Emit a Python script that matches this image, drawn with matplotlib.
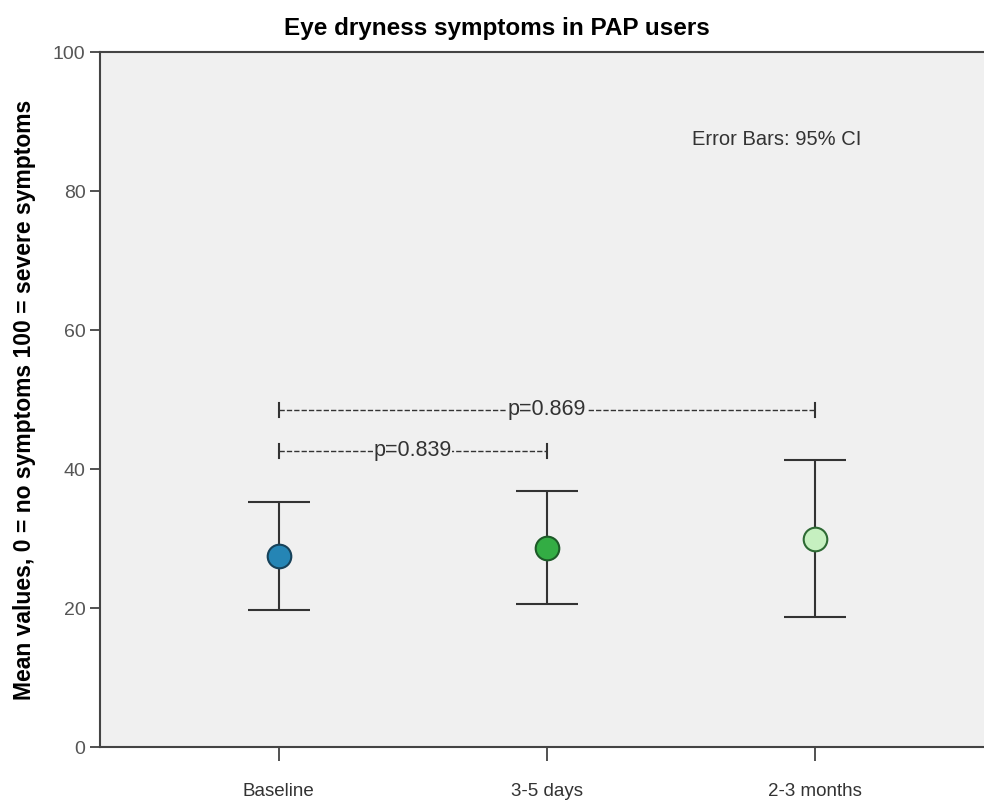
import numpy as np
import matplotlib.pyplot as plt

# data
groups = ["Baseline", "3-5 days", "2-3 months"]
means = [27.5, 28.6, 29.9]
ci_low = [19.7, 20.6, 18.7]
ci_high = [35.3, 36.8, 41.3]
colors = ["#2585b5", "#33ad44", "#c6f0c0"]
edges = ["#17425a", "#1d5a28", "#2e6a34"]

# pairwise comparisons: (from, to, height, label)
pairs = [(0, 2, 48.5, "p=0.869"), (0, 1, 42.6, "p=0.839")]

fig = plt.figure(figsize=(9.84, 8.05), dpi=100)
ax = fig.add_axes([0.1016, 0.072, 0.8984, 0.8634])
ax.set_facecolor("#f0f0f0")

x = np.arange(len(groups))
err = [np.array(means) - np.array(ci_low), np.array(ci_high) - np.array(means)]
ax.errorbar(x, means, yerr=err, fmt="none", ecolor="#333333", elinewidth=1.5,
            capsize=22, capthick=1.5, zorder=2)
for i in range(len(groups)):
    ax.plot(x[i], means[i], "o", ms=17, mfc=colors[i], mec=edges[i], mew=1.5, zorder=3)

for a, b, h, lab in pairs:
    ax.plot([a, b], [h, h], ls=(0, (3.8, 1.5)), color="#333333", lw=1, zorder=1)
    ax.plot([a, a], [h - 1, h + 1], color="#333333", lw=1.5)
    ax.plot([b, b], [h - 1, h + 1], color="#333333", lw=1.5)
    ax.text((a + b) / 2, h, lab, ha="center", va="center", fontsize=15.5,
            family="Liberation Sans", color="#333333",
            bbox=dict(facecolor="#f0f0f0", edgecolor="none", pad=0.3))

ax.text(0.766, 0.874, "Error Bars: 95% CI", transform=ax.transAxes, fontsize=14.5,
        family="Liberation Sans", color="#333333", ha="center", va="center")

ax.set_xlim(-0.667, 2.63)
ax.set_ylim(0, 100)
ax.set_yticks([0, 20, 40, 60, 80, 100])
ax.set_xticks(x)
ax.set_xticklabels(groups, family="Liberation Sans", fontsize=13.5, color="#333333")
ax.set_yticklabels([0, 20, 40, 60, 80, 100], family="Liberation Sans", fontsize=14,
                   color="#555555")
ax.tick_params(axis="y", length=7, width=1.2, color="#333333")
ax.tick_params(axis="x", length=10, width=1.2, color="#333333", pad=16)
for s in ["left", "bottom", "top"]:
    ax.spines[s].set_color("#444444")
    ax.spines[s].set_linewidth(1.5)
ax.spines["right"].set_visible(False)

ax.set_ylabel("Mean values, 0 = no symptoms 100 = severe symptoms", fontsize=16.5,
              fontweight="bold", family="Liberation Sans", labelpad=12)
fig.text(0.505, 0.965, "Eye dryness symptoms in PAP users", ha="center", va="center",
         fontsize=17.5, fontweight="bold", family="Liberation Sans")

fig.savefig("out.png", dpi=100)
